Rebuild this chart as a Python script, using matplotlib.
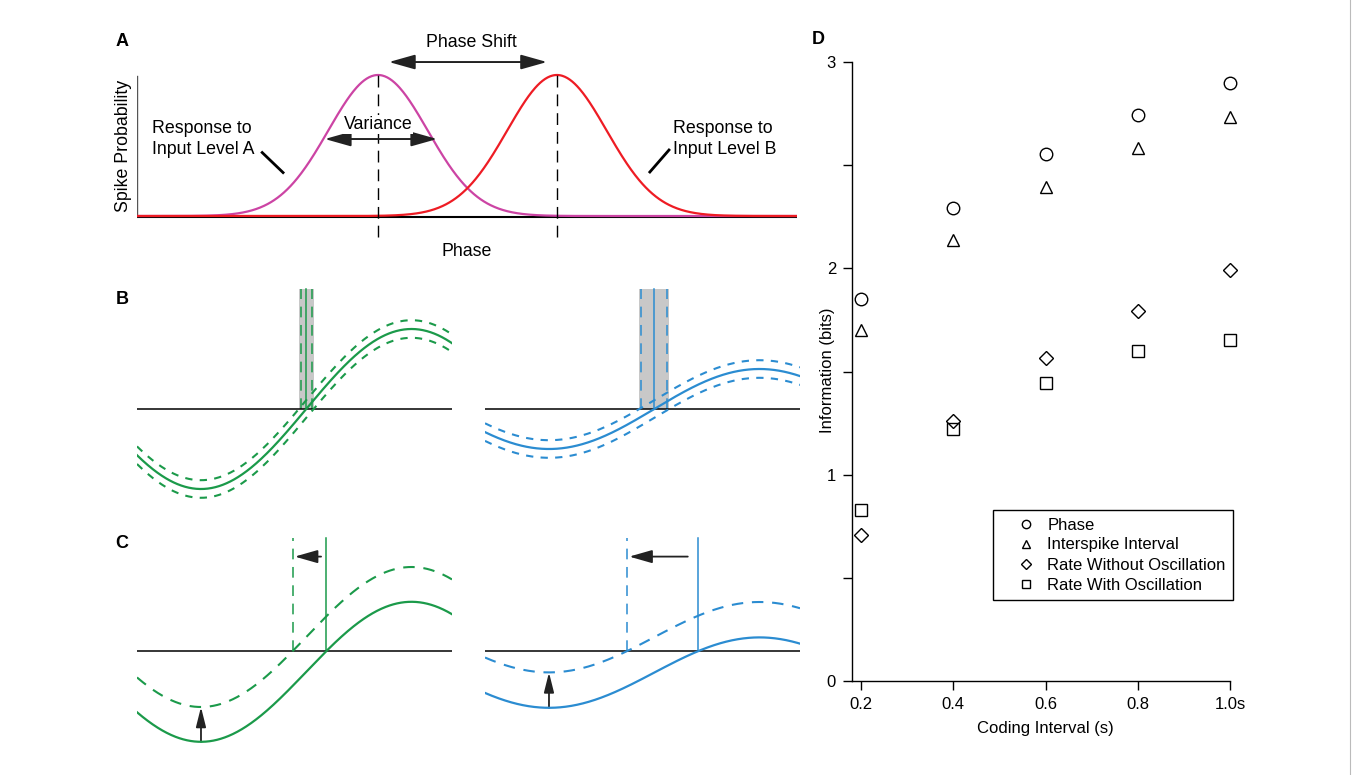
import numpy as np
import matplotlib
matplotlib.use('Agg')
import matplotlib.pyplot as plt
from matplotlib.lines import Line2D
from matplotlib.patches import Rectangle

plt.rcParams['font.family'] = ['Liberation Sans', 'DejaVu Sans']
plt.rcParams['font.size'] = 12

# ---------------- data (panel D) ----------------
coding_interval = [0.2, 0.4, 0.6, 0.8, 1.0]
x_tick_labels = ['0.2', '0.4', '0.6', '0.8', '1.0s']
info_phase = [1.85, 2.29, 2.555, 2.745, 2.90]
info_isi = [1.70, 2.135, 2.395, 2.585, 2.735]
info_rate_no_osc = [0.71, 1.26, 1.565, 1.795, 1.99]
info_rate_osc = [0.83, 1.22, 1.445, 1.60, 1.655]
legend_labels = ['Phase', 'Interspike Interval', 'Rate Without Oscillation',
                 'Rate With Oscillation']

# ---------------- schematic parameters (panels A-C) ----------------
peak_A, peak_B, sigma = 0.0, 3.6, 1.0          # panel A (units of sigma)
trough_phase = 0.955                              # panels B, C (radians)
B_amp = [2.0, 1.0]                                # left (green), right (blue)
B_noise = 0.22
C_amp = [1.75, 0.88]
C_center_solid = [-0.52, -0.54]
C_center_dashed = [0.35, 0.345]

GREEN = '#1B9A4A'
BLUE = '#2B8CD1'
MAGENTA = '#CC44A4'
RED = '#EE1C24'
FS_A = 12.8

W, H = 1356, 775
fig = plt.figure(figsize=(W / 100, H / 100), dpi=100)


def add_ax(x0, y0, x1, y1):
    return fig.add_axes([x0 / W, 1 - y1 / H, (x1 - x0) / W, (y1 - y0) / H])


def fig_text(x, y, s, **kw):
    fig.text(x / W, 1 - y / H, s, **kw)


def arrow(ax, x0, y0, x1, y1, both=False, hl=1.6, hw=0.45, lw=1.4, color='#222222'):
    style = '<|-|>' if both else '-|>'
    ax.annotate('', xy=(x1, y1), xytext=(x0, y0),
                arrowprops=dict(arrowstyle=f'{style},head_length={hl},head_width={hw}',
                                color=color, lw=lw, shrinkA=0, shrinkB=0,
                                mutation_scale=10),
                annotation_clip=False)


# ---------------- Panel A ----------------
sig_px = 49.7
axA = add_ax(137, 30, 797, 240)
xa0, xa1 = (137 - 378) / sig_px, (797 - 378) / sig_px
axA.set_xlim(xa0, xa1)
axA.set_ylim((216 - 240) / 141, (216 - 30) / 141)
axA.axis('off')
xs = np.linspace(xa0, xa1, 800)
gA = np.exp(-(xs - peak_A) ** 2 / (2 * sigma ** 2))
gB = np.exp(-(xs - peak_B) ** 2 / (2 * sigma ** 2))
axA.plot([xa0, xa1], [-0.008, -0.008], color='black', lw=1.5, solid_capstyle='butt')
axA.plot([xa0, xa0], [0, 0.99], color='#555555', lw=1.0)
axA.plot(xs, gA, color=MAGENTA, lw=1.6)
axA.plot(xs, gB, color=RED, lw=1.6)
for p in (peak_A, peak_B):
    axA.plot([p, p], [-0.15, 1.015], color='black', lw=1.0, ls=(0, (8.5, 5)), clip_on=False)
arrow(axA, peak_A + 0.22, 1.092, peak_B - 0.2, 1.092, both=True)
axA.text((peak_A + peak_B) / 2 + 0.07, 1.234, 'Phase Shift', ha='center', va='center',
         fontsize=FS_A)
arrow(axA, peak_A - 1.07, 0.546, peak_A + 1.19, 0.546, both=True)
axA.text(peak_A, 0.65, 'Variance', ha='center', va='center', fontsize=FS_A,
         bbox=dict(facecolor='white', edgecolor='none', pad=0.5), zorder=5)
axA.text(-4.55, 0.545, 'Response to\nInput Level A', ha='left', va='center',
         linespacing=1.32, fontsize=FS_A)
axA.text(5.94, 0.545, 'Response to\nInput Level B', ha='left', va='center',
         linespacing=1.32, fontsize=FS_A)
axA.plot([-2.33, -1.91], [0.45, 0.308], color='black', lw=2)
axA.plot([5.47, 5.855], [0.312, 0.468], color='black', lw=2)
fig_text(467, 251, 'Phase', ha='center', va='center', fontsize=FS_A)
fig_text(123, 146, 'Spike Probability', ha='center', va='center', rotation=90, fontsize=FS_A)

# ---------------- Panels B & C ----------------
px_rad = 67.0
ypx = 40.0
span = 315 / px_rad
theta = np.linspace(0, span, 500)


def sub_ax(x0, y0, y1, yzero):
    ax = add_ax(x0, y0, x0 + 315, y1)
    ax.set_xlim(0, span)
    ax.set_ylim((yzero - y1) / ypx, (yzero - y0) / ypx)
    ax.axis('off')
    ax.axhline(0, color='black', lw=1.1, zorder=3)
    return ax


for i, (x0, col) in enumerate([(137, GREEN), (485, BLUE)]):
    # Panel B
    ax = sub_ax(x0, 280, 505, 409)
    amp = B_amp[i]
    y = -amp * np.cos(theta - trough_phase)
    ax.plot(theta, y, color=col, lw=1.6, zorder=4)
    ax.plot(theta, y + B_noise, color=col, lw=1.5, ls=(0, (3.5, 3.5)), zorder=4)
    ax.plot(theta, y - B_noise, color=col, lw=1.5, ls=(0, (3.5, 3.5)), zorder=4)
    lo = trough_phase + np.arccos(B_noise / amp)
    hi = trough_phase + np.arccos(-B_noise / amp)
    mid = trough_phase + np.pi / 2
    top = 3.0
    ax.add_patch(Rectangle((lo, 0), hi - lo, top, color='#C8C8C8', lw=0, zorder=1))
    ax.plot([mid, mid], [0, top], color=col, lw=1.1, zorder=2)
    for e in (lo + 0.03, hi - 0.03):
        ax.plot([e, e], [0, top], color=col, lw=1.1, ls=(0, (7, 5)), zorder=2)

    # Panel C
    ax = sub_ax(x0, 530, 760, 651)
    amp = C_amp[i]
    cs, cd = C_center_solid[i], C_center_dashed[i]
    ys = cs - amp * np.cos(theta - trough_phase)
    yd = cd - amp * np.cos(theta - trough_phase)
    ax.plot(theta, ys, color=col, lw=1.6, zorder=4)
    ax.plot(theta, yd, color=col, lw=1.5, ls=(0, (5.5, 4.2)), zorder=4)
    xs_c = trough_phase + np.arccos(cs / amp)
    xd_c = trough_phase + np.arccos(cd / amp)
    topc = 2.825
    ax.plot([xs_c, xs_c], [0, topc], color=col, lw=1.1, zorder=2)
    ax.plot([xd_c, xd_c], [0, topc], color=col, lw=1.1, ls=(0, (7, 5)), zorder=2)
    arrow(ax, xs_c - 0.08 - 0.08 * i, 2.36, xd_c + 0.03, 2.36, hl=1.4, hw=0.4, lw=1.3)
    arrow(ax, trough_phase, cs - amp, trough_phase, cd - amp, hl=1.2, hw=0.3, lw=1.3)

# ---------------- Panel D ----------------
axD = add_ax(852, 62, 1230, 681)
axD.set_xlim(0.2 - 9 / 461.25, 1.0)
axD.set_ylim(0, 3)
for side in ('top', 'right'):
    axD.spines[side].set_visible(False)
for side in ('left', 'bottom'):
    axD.spines[side].set_linewidth(1.0)
axD.set_xticks(coding_interval)
axD.set_xticklabels(x_tick_labels)
axD.set_yticks(np.arange(0, 3.01, 0.5))
axD.set_yticklabels(['0', '', '1', '', '2', '', '3'])
axD.tick_params(direction='out', length=6.5, width=1.0, pad=5, labelsize=12)
mk = dict(ls='none', mfc='none', mec='black', mew=1.0, clip_on=False)
axD.plot(coding_interval, info_phase, marker='o', ms=9, **mk)
axD.plot(coding_interval, info_isi, marker='^', ms=9, **mk)
axD.plot(coding_interval, info_rate_no_osc, marker='D', ms=7, **mk)
axD.plot(coding_interval, info_rate_osc, marker='s', ms=8.5, **mk)
handles = [Line2D([], [], ls='none', marker=m, ms=s, mfc='none', mec='black', mew=1.0)
           for m, s in [('o', 6), ('^', 6), ('D', 5), ('s', 6)]]
leg = axD.legend(handles, legend_labels, loc='upper left',
                 bbox_to_anchor=(993 / W, 1 - 510 / H), bbox_transform=fig.transFigure,
                 frameon=True, fancybox=False, shadow=False, framealpha=1,
                 edgecolor='black', borderpad=0.45, handlelength=3.1,
                 handletextpad=-0.3, labelspacing=0.3, borderaxespad=0, fontsize=12)
leg.get_frame().set_linewidth(1.0)
fig_text(828, 370, 'Information (bits)', ha='center', va='center', rotation=90)
fig_text(1045, 729, 'Coding Interval (s)', ha='center', va='center')

# ---------------- panel letters ----------------
for (x, y, s) in [(122, 42, 'A'), (122, 300, 'B'), (122, 543, 'C'), (818, 40, 'D')]:
    fig_text(x, y, s, ha='center', va='center', fontsize=13, fontweight='bold')

# thin light frame edge on the right, as in the source figure
fig.add_artist(Line2D([1349.5 / W, 1349.5 / W], [0, 1], transform=fig.transFigure,
                      color='#BBBBBB', lw=0.8))

fig.savefig('out.png', dpi=100)
